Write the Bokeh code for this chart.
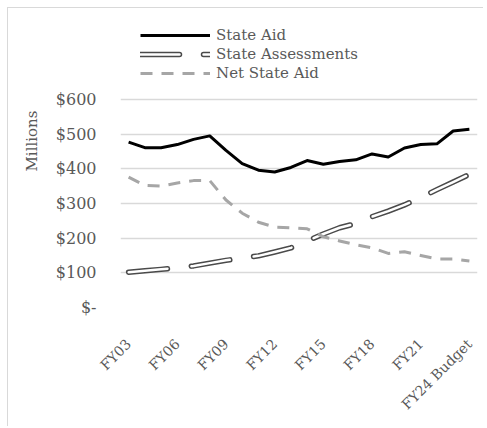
from bokeh.plotting import figure
from bokeh.models import (Range1d, FixedTicker, Legend, LegendItem, Title)
from bokeh.embed import file_html
from bokeh.resources import INLINE

categories = ["FY03", "FY04", "FY05", "FY06", "FY07", "FY08", "FY09", "FY10",
              "FY11", "FY12", "FY13", "FY14", "FY15", "FY16", "FY17", "FY18",
              "FY19", "FY20", "FY21", "FY22", "FY23", "FY24 Budget"]
state_aid = [477, 461, 461, 470, 485, 495, 453, 415, 396, 391, 404, 424,
             413, 421, 426, 443, 434, 460, 470, 472, 509, 514]
state_assessments = [102, 106, 110, 115, 120, 128, 136, 142, 149, 160, 172, 192,
                     212, 230, 242, 262, 278, 296, 317, 340, 362, 384]
net_state_aid = [376, 352, 350, 359, 366, 366, 310, 272, 246, 232, 230, 227,
                 204, 192, 181, 172, 156, 161, 150, 140, 140, 134]
y_ticks = [0, 100, 200, 300, 400, 500, 600]
y_tick_labels = ["$-", "$100", "$200", "$300", "$400", "$500", "$600"]
x_tick_idx = [0, 3, 6, 9, 12, 15, 18, 21]

FONT = "DejaVu Serif"
TXT = "#595959"
GRID = "#d9d9d9"

xs = list(range(len(categories)))

# frame extends to the top of the canvas so the legend sits inside it;
# gridlines/ticks stop at $600
p = figure(width=476, height=419, output_backend="svg", toolbar_location=None,
           x_range=Range1d(-0.5, len(categories) - 0.5),
           y_range=Range1d(0, 600 * 299 / 208),
           min_border_left=112, min_border_right=7, min_border_top=0,
           min_border_bottom=120)
p.styles = {"margin-left": "7px", "margin-top": "7px",
            "border-left": "1px solid #d9d9d9", "border-top": "1px solid #d9d9d9",
            "border-right": "none", "border-bottom": "none",
            "outline": "none", "box-shadow": "none"}
p.outline_line_color = None
p.background_fill_color = "white"
p.border_fill_color = "white"

# axes
p.yaxis.ticker = FixedTicker(ticks=y_ticks)
p.yaxis.major_label_overrides = {t: l for t, l in zip(y_ticks, y_tick_labels)}
p.xaxis.ticker = FixedTicker(ticks=x_tick_idx)
p.xaxis.major_label_overrides = {i: categories[i] for i in x_tick_idx}
p.xaxis.major_label_orientation = 0.785398
for ax in (p.xaxis, p.yaxis):
    ax.axis_line_color = None
    ax.major_tick_line_color = None
    ax.minor_tick_line_color = None
    ax.major_tick_out = 0
    ax.major_tick_in = 0
    ax.minor_tick_out = 0
    ax.major_label_text_font = FONT
    ax.major_label_text_color = TXT
p.xaxis.major_label_text_font_size = "14px"
p.yaxis.major_label_text_font_size = "16px"
p.yaxis.major_label_standoff = 24
p.xaxis.major_label_standoff = 34

p.xgrid.visible = False
p.ygrid.ticker = FixedTicker(ticks=y_ticks)
p.ygrid.grid_line_color = GRID
p.ygrid.grid_line_width = 1.5

# series
r1 = p.line(xs, state_aid, line_color="black", line_width=3, line_join="round")
r2o = p.line(xs, state_assessments, line_color="#4a4a4a", line_width=5.5,
             line_dash="39 24", line_cap="round", line_join="round")
r2i = p.line(xs, state_assessments, line_color="white", line_width=2.5,
             line_dash="39 24", line_cap="round", line_join="round")
r3 = p.line(xs, net_state_aid, line_color="#a6a6a6", line_width=3,
            line_dash="12 9", line_join="round")

legend = Legend(items=[
    LegendItem(label="State Aid", renderers=[r1]),
    LegendItem(label="State Assessments", renderers=[r2o, r2i]),
    LegendItem(label="Net State Aid", renderers=[r3]),
], location=(20, 225), glyph_width=70, glyph_height=16, label_height=16,
    label_standoff=6, spacing=1, padding=0, margin=0,
    background_fill_alpha=0, border_line_color=None,
    label_text_font=FONT, label_text_font_size="15px", label_text_color=TXT)
p.add_layout(legend, "center")

p.add_layout(Title(text="Millions", align="left", offset=136, standoff=22,
                   vertical_align="middle",
                   text_font=FONT, text_font_size="15px",
                   text_font_style="normal", text_color=TXT), "left")

open("out.html", "w").write(file_html(p, INLINE))
